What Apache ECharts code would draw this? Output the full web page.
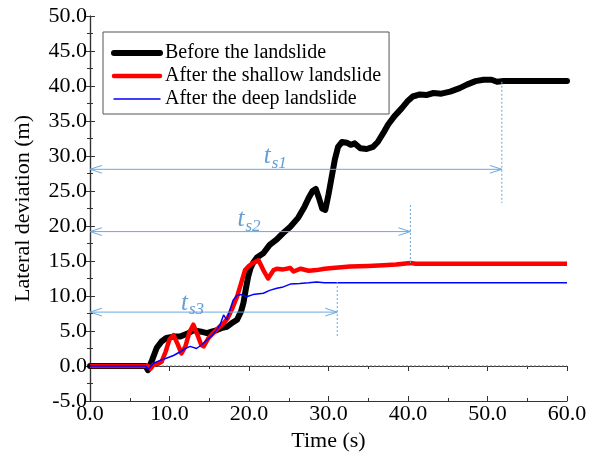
<!DOCTYPE html>
<html>
<head>
<meta charset="utf-8">
<script src="https://cdn.jsdelivr.net/npm/echarts@6/dist/echarts.min.js"></script>
<style>
  html, body { margin: 0; padding: 0; background: #fff; }
  #main { width: 597px; height: 452px; }
</style>
</head>
<body>
<div id="main"></div>
<script>
// 数据 (time s, lateral deviation m)
var seriesNames = ['Before the landslide', 'After the shallow landslide', 'After the deep landslide'];

var beforeData = [
  [0, 0], [7.0, 0], [7.3, -0.6], [7.8, 0.8], [8.4, 2.6], [9.0, 3.5], [9.6, 4.0], [10.5, 4.2],
  [11.3, 4.2], [12.2, 4.6], [13.0, 5.1], [14.0, 4.9], [14.7, 4.7], [15.3, 4.9], [15.9, 5.1],
  [16.5, 5.4], [17.2, 5.6], [17.8, 6.1], [18.5, 6.6], [19.0, 7.8], [19.3, 9.0], [19.6, 11.0],
  [19.9, 12.8], [20.2, 14.0], [20.5, 14.7], [21.0, 15.5], [21.8, 16.1], [22.6, 17.3], [23.5, 18.1],
  [24.3, 19.0], [25.2, 19.9], [26.2, 21.2], [27.0, 22.8], [27.5, 24.0], [28.0, 25.0], [28.4, 25.3],
  [28.8, 24.0], [29.2, 22.5], [29.6, 22.3], [30.0, 24.5], [30.4, 27.0], [30.8, 29.5], [31.2, 31.3],
  [31.7, 32.0], [32.3, 31.9], [32.8, 31.6], [33.3, 31.8], [34.0, 31.1], [34.8, 31.0], [35.6, 31.3],
  [36.2, 32.0], [36.9, 33.3], [37.5, 34.5], [38.3, 35.7], [39.2, 36.8], [40.0, 37.9], [40.6, 38.5],
  [41.5, 38.8], [42.3, 38.7], [43.2, 39.0], [44.2, 38.9], [45.3, 39.2], [46.5, 39.7], [47.4, 40.2],
  [48.5, 40.7], [49.5, 40.9], [50.5, 40.9], [51.2, 40.6], [52.0, 40.7], [60, 40.7]
];
var shallowData = [
  [0, 0], [7.3, 0], [7.6, -0.4], [8.0, 0.2], [8.5, 0.3], [9.0, 0.6], [9.5, 2.0], [10.0, 3.8],
  [10.5, 4.4], [11.0, 3.2], [11.5, 1.8], [12.0, 2.8], [12.5, 4.8], [13.0, 5.9], [13.5, 4.5],
  [14.0, 3.0], [14.3, 2.8], [14.9, 4.0], [15.5, 4.7], [16.2, 5.5], [16.8, 6.1], [17.3, 6.8],
  [17.6, 7.5], [18.0, 8.5], [18.5, 9.9], [19.0, 11.8], [19.5, 13.7], [20.0, 14.3], [20.5, 14.7],
  [21.2, 15.1], [21.8, 13.7], [22.4, 12.5], [23.1, 13.7], [23.5, 13.9], [24.3, 13.8], [25.2, 14.0],
  [25.6, 13.5], [26.5, 13.9], [27.5, 13.6], [28.5, 13.7], [29.5, 13.9], [30.5, 14.0], [32.7, 14.2],
  [35.0, 14.3], [36.9, 14.4], [38.5, 14.5], [40.3, 14.7], [41.0, 14.6], [60, 14.6]
];
var deepData = [
  [0, 0], [7.0, 0], [7.3, -0.5], [7.7, 0.0], [8.0, 0.4], [8.8, 0.8], [9.6, 1.1], [10.5, 1.5],
  [11.3, 2.0], [12.0, 2.5], [12.6, 2.8], [13.4, 2.5], [14.0, 3.0], [14.7, 3.7], [15.3, 4.3],
  [15.9, 5.1], [16.4, 6.0], [16.8, 7.3], [17.2, 6.6], [17.6, 8.0], [18.0, 9.4], [18.5, 10.1],
  [19.1, 10.2], [19.7, 9.9], [20.5, 10.2], [21.8, 10.4], [22.6, 10.8], [23.5, 11.1], [24.3, 11.3],
  [25.2, 11.7], [26.4, 11.8], [27.5, 11.9], [28.5, 12.0], [29.5, 11.9], [30.6, 11.9], [60, 11.9]
];

// 标注 ts1 ts2 ts3
var annoNames = ['s1', 's2', 's3'];
var arrowY = [28.1, 19.2, 7.7];
var arrowEnd = [51.8, 40.3, 31.1];
var guideTop = [40.6, 23.0, 12.0];
var guideBottom = [23.3, 14.6, 4.3];
var labelX = [23.3, 20.0, 12.9];
var labelY = [29.9, 20.9, 9.0];

var font = 'Liberation Serif, DejaVu Serif, serif';
var annoColor = '#6aa8de';
var headLen = 1.5, headHalf = 0.55;
var lineWidths = [6, 4.5, 1.5];
var lineColors = ['#000', '#ff0000', '#0000ff'];

var myChart = echarts.init(document.getElementById('main'));

var series = [
  {
    name: 'zero', type: 'line', data: [[0, 0], [60, 0]], symbol: 'none', z: 1,
    lineStyle: { color: '#777', width: 1, type: [2, 2] }, silent: true
  },
  {
    name: seriesNames[0], type: 'line', data: beforeData, symbol: 'none', z: 3,
    lineStyle: { color: lineColors[0], width: lineWidths[0], cap: 'round', join: 'round' }, itemStyle: { color: lineColors[0] }
  },
  {
    name: seriesNames[1], type: 'line', data: shallowData, symbol: 'none', z: 4,
    lineStyle: { color: lineColors[1], width: lineWidths[1], join: 'round' }, itemStyle: { color: lineColors[1] }
  },
  {
    name: seriesNames[2], type: 'line', data: deepData, symbol: 'none', z: 5,
    lineStyle: { color: lineColors[2], width: lineWidths[2] }, itemStyle: { color: lineColors[2] }
  }
];

for (var i = 0; i < arrowY.length; i++) {
  var y = arrowY[i], x1 = arrowEnd[i];
  // 箭杆
  series.push({ type: 'line', data: [[0, y], [x1, y]], symbol: 'none', silent: true, z: 6,
    lineStyle: { color: annoColor, width: 1 } });
  // 左箭头
  series.push({ type: 'line', data: [[headLen, y + headHalf], [0, y], [headLen, y - headHalf]], symbol: 'none', silent: true, z: 6,
    lineStyle: { color: annoColor, width: 1 } });
  // 右箭头
  series.push({ type: 'line', data: [[x1 - headLen, y + headHalf], [x1, y], [x1 - headLen, y - headHalf]], symbol: 'none', silent: true, z: 6,
    lineStyle: { color: annoColor, width: 1 } });
  // 虚线
  series.push({ type: 'line', data: [[x1, guideTop[i]], [x1, guideBottom[i]]], symbol: 'none', silent: true, z: 6,
    lineStyle: { color: annoColor, width: 1, type: [2, 2] } });
  // 文字
  series.push({ type: 'scatter', data: [[labelX[i], labelY[i]]], symbolSize: 0, silent: true, z: 7,
    label: {
      show: true, position: 'inside',
      formatter: '{t|t}{s|' + annoNames[i] + '}',
      rich: {
        t: { fontFamily: font, fontStyle: 'italic', fontSize: 25, color: '#3d86c8' },
        s: { fontFamily: font, fontStyle: 'italic', fontSize: 17, color: '#3d86c8', padding: [14, 0, 0, 1] }
      }
    } });
}

// 图例
var legendData = [];
for (var k = 0; k < seriesNames.length; k++) {
  legendData.push({ name: seriesNames[k], lineStyle: { width: lineWidths[k], color: lineColors[k], cap: 'round' } });
}

var option = {
  animation: false,
  grid: { left: 90, right: 30, top: 16, bottom: 51, outerBoundsMode: 'none' },
  legend: {
    data: legendData,
    orient: 'vertical',
    left: 103, top: 32,
    padding: [11, 8, 5, 8],
    itemWidth: 46, itemHeight: 14, itemGap: 3,
    borderColor: '#555', borderWidth: 1,
    itemStyle: { opacity: 0 },
    textStyle: { fontFamily: font, fontSize: 20, color: '#000' }
  },
  xAxis: [
    {
      type: 'value', min: 0, max: 60, interval: 10, position: 'bottom',
      name: 'Time (s)', nameLocation: 'middle', nameGap: 29,
      nameTextStyle: { fontFamily: font, fontSize: 22, color: '#000' },
      axisLine: { onZero: false, lineStyle: { color: '#333', width: 1.2 } },
      axisTick: { inside: true, length: 5, lineStyle: { color: '#333' } },
      minorTick: { show: true, splitNumber: 2, length: 3, lineStyle: { color: '#333' } },
      splitLine: { show: false },
      axisLabel: { fontFamily: font, fontSize: 22, color: '#000', margin: 2,
        formatter: function (v) { return v.toFixed(1); } }
    },
    {
      type: 'value', min: 0, max: 60, interval: 10, position: 'top',
      axisLine: { lineStyle: { color: '#333', width: 1.2 } },
      axisTick: { inside: true, length: 5, lineStyle: { color: '#333' } },
      minorTick: { show: true, splitNumber: 2, length: 3, lineStyle: { color: '#333' } },
      splitLine: { show: false }, axisLabel: { show: false }
    }
  ],
  yAxis: [
    {
      type: 'value', min: -5, max: 50, interval: 5, position: 'left',
      name: 'Lateral deviation (m)', nameLocation: 'middle', nameGap: 56, nameRotate: 90,
      nameTextStyle: { fontFamily: font, fontSize: 22, color: '#000' },
      axisLine: { show: true, onZero: false, lineStyle: { color: '#333', width: 1.2 } },
      axisTick: { show: true, inside: true, length: 5, lineStyle: { color: '#333' } },
      minorTick: { show: true, splitNumber: 2, length: 3, lineStyle: { color: '#333' } },
      splitLine: { show: false },
      axisLabel: { fontFamily: font, fontSize: 22, color: '#000', margin: 3,
        formatter: function (v) { return v.toFixed(1); } }
    },
    {
      type: 'value', min: -5, max: 50, interval: 5, position: 'right',
      axisLine: { show: true, lineStyle: { color: '#333', width: 1.2 } },
      axisTick: { show: true, inside: true, length: 5, lineStyle: { color: '#333' } },
      minorTick: { show: true, splitNumber: 2, length: 3, lineStyle: { color: '#333' } },
      splitLine: { show: false }, axisLabel: { show: false }
    }
  ],
  series: series
};
myChart.setOption(option);
</script>
</body>
</html>
